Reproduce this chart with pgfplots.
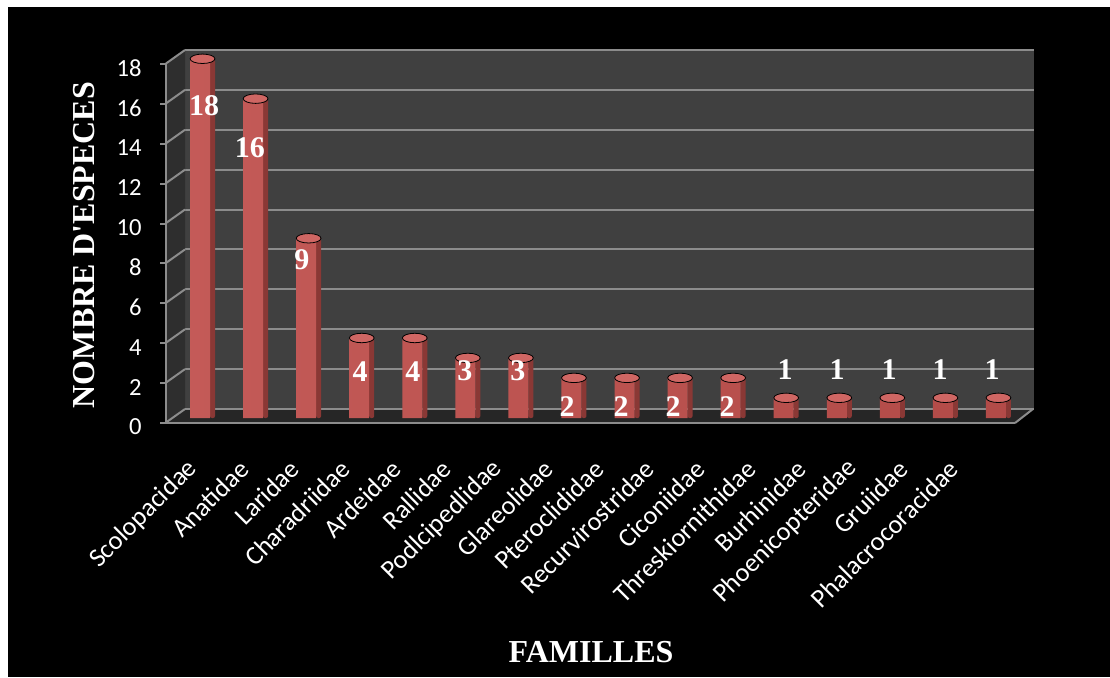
\documentclass[border=0pt]{standalone}
\usepackage{pgfplots}
\pgfplotsset{compat=1.18}
\usepackage{pgfplotstable}
\usepackage{fontspec}
\setmainfont{Liberation Serif}
\newfontfamily\calfont{Carlito}
\definecolor{wall}{HTML}{404040}
\definecolor{sidewall}{HTML}{2E2E2E}
\definecolor{floorc}{HTML}{262626}
\definecolor{gridc}{HTML}{8C8C8C}
\definecolor{barf}{HTML}{C0504D}
\definecolor{bars}{HTML}{8A3835}
\definecolor{bart}{HTML}{CF6663}

\pgfplotstableread{
x y
0 18
1 16
2 9
3 4
4 4
5 3
6 3
7 2
8 2
9 2
10 2
11 1
12 1
13 1
14 1
15 1
}\data

\pgfplotstableread{
x y lab
0.047 15.65 18
0.913 13.54 16
1.893 7.92 9
2.987 2.31 4
3.985 2.31 4
4.965 2.36 3
5.964 2.36 3
6.888 0.55 2
7.906 0.55 2
8.886 0.55 2
9.903 0.55 2
10.996 2.41 1
11.977 2.41 1
12.956 2.41 1
13.917 2.41 1
14.898 2.41 1
}\labs

\pgfplotsset{common/.style={scale only axis, width=424.5pt, height=179.5pt,
  xmin=-0.5, xmax=15.5, ymin=0, ymax=18, anchor=south west, clip=false}}

\begin{document}
\begin{tikzpicture}
\path[fill=white] (0,0) rectangle (555pt,338.5pt);
\path[fill=black] (4pt,0) rectangle (555pt,335pt);

% back wall
\begin{axis}[common, at={(92.5pt,134pt)},
  axis line style={draw=none}, xtick=\empty, ytick={0,2,...,18}, yticklabels={},
  major tick length=0pt, ymajorgrids, grid style={gridc, line width=1pt},
  axis background/.style={fill=wall}]
\fill[sidewall] (axis cs:-0.5,0) -- (axis cs:-0.5,18) -- ++(-9.5pt,-6.5pt)
   -- ([shift={(-9.5pt,-7pt)}]axis cs:-0.5,0) -- cycle;
\fill[floorc] (axis cs:-0.5,0) -- (axis cs:15.5,0) -- ++(-9pt,-7pt)
   -- ([shift={(-9.5pt,-7pt)}]axis cs:-0.5,0) -- cycle;
\pgfplotsinvokeforeach{0,2,...,18}{\draw[gridc,line width=1pt] (axis cs:-0.5,#1) -- ++(-9.5pt,-6.75pt);}
\draw[gridc,line width=1pt] (axis cs:-0.5,0) -- (axis cs:15.5,0);
\end{axis}

% bars
\begin{axis}[common, at={(87.5pt,129.5pt)}, hide axis]
\addplot[ybar, bar width=2.5pt, bar shift=5.5pt, fill=bars, draw=none, rounded corners=1pt] table[x=x,y=y]{\data};
\addplot[only marks, mark=*, mark size=6.2pt, mark options={draw=none, fill=bart, yscale=0.38, xshift=0.5pt, yshift=0.3pt}] table[x=x,y=y]{\data};
\addplot[ybar, bar width=10pt, bar shift=-0.75pt, draw=none,
  left color=barf!94!white, right color=barf!93!black] table[x=x,y=y]{\data};
\addplot[draw=none, mark=none, nodes near coords, point meta=explicit symbolic,
  every node near coord/.style={anchor=center, text=white, font=\bfseries\fontsize{15}{15}\selectfont}]
  table[x=x,y=y,meta=lab]{\labs};
\end{axis}

% front axis
\begin{axis}[common, at={(83pt,127pt)},
  axis lines*=left, axis line style={gridc, line width=1pt},
  xtick={0.047,1.002,1.958,2.913,3.869,4.824,5.780,6.735,7.691,8.646,9.602,10.557,11.513,12.468,13.424,14.379},
  xticklabels={Scolopacidae,Anatidae,Laridae,Charadriidae,Ardeidae,Rallidae,Podlcipedlidae,Glareolidae,Pteroclididae,Recurvirostridae,Ciconiidae,Threskiornithidae,Burhinidae,Phoenicopteridae,Gruiidae,Phalacrocoracidae},
  xtick style={draw=none},
  ytick={0,2,...,18}, ytick style={gridc, line width=1pt},
  ytick align=outside, major tick length=3pt,
  ticklabel style={text=white},
  /pgf/number format/assume math mode=true,
  yticklabel style={font=\calfont\fontsize{12.3}{12.3}\selectfont, anchor=east, inner sep=0pt, xshift=-9pt, yshift=-2pt},
  xticklabel style={font=\calfont\fontsize{13.2}{13.2}\selectfont, rotate=45, anchor=east, inner sep=1pt},
  xticklabel shift=20pt]
\draw[gridc,line width=1pt] (axis cs:15.5,0) -- ++(9pt,7pt);
\end{axis}

\node[rotate=90, text=white, font=\bfseries\fontsize{16}{16}\selectfont] at (42pt,216pt) {NOMBRE D\textquotesingle ESPECES};
\node[text=white, font=\bfseries\fontsize{16}{16}\selectfont] at (295.5pt,12.5pt) {FAMILLES};
\end{tikzpicture}
\end{document}
